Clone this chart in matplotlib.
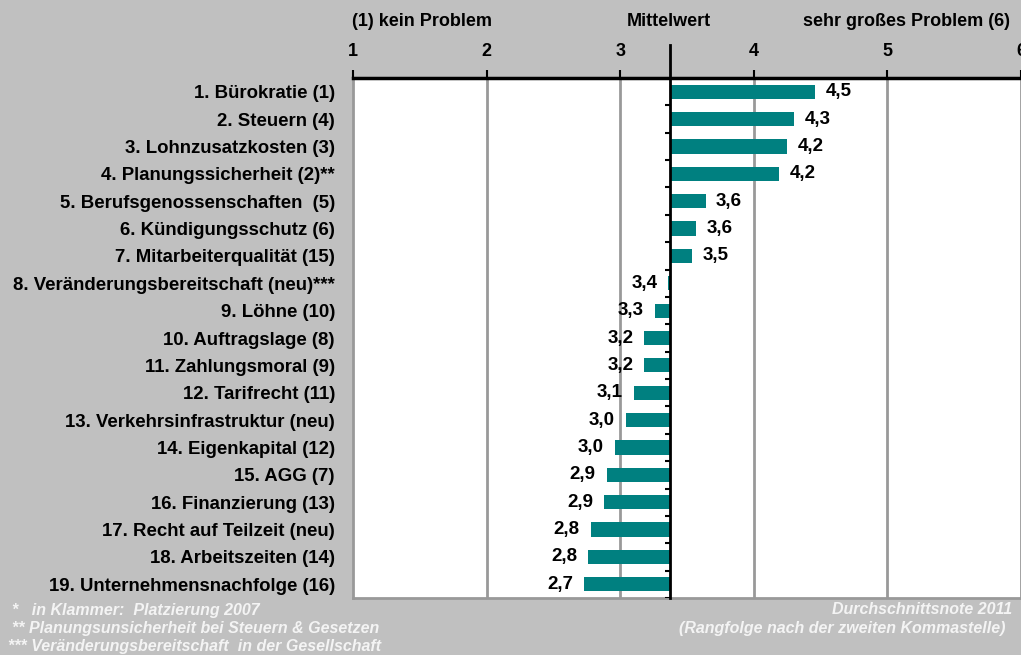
import matplotlib.pyplot as plt
import numpy as np

plt.rcParams['font.family'] = ['Liberation Sans', 'DejaVu Sans']

categories = [
    "1. Bürokratie (1)",
    "2. Steuern (4)",
    "3. Lohnzusatzkosten (3)",
    "4. Planungssicherheit (2)**",
    "5. Berufsgenossenschaften  (5)",
    "6. Kündigungsschutz (6)",
    "7. Mitarbeiterqualität (15)",
    "8. Veränderungsbereitschaft (neu)***",
    "9. Löhne (10)",
    "10. Auftragslage (8)",
    "11. Zahlungsmoral (9)",
    "12. Tarifrecht (11)",
    "13. Verkehrsinfrastruktur (neu)",
    "14. Eigenkapital (12)",
    "15. AGG (7)",
    "16. Finanzierung (13)",
    "17. Recht auf Teilzeit (neu)",
    "18. Arbeitszeiten (14)",
    "19. Unternehmensnachfolge (16)",
]
values = [4.46, 4.30, 4.25, 4.19, 3.64, 3.57, 3.54, 3.36, 3.26, 3.18, 3.18,
          3.10, 3.04, 2.96, 2.90, 2.88, 2.78, 2.76, 2.73]
labels = ["4,5", "4,3", "4,2", "4,2", "3,6", "3,6", "3,5", "3,4", "3,3", "3,2",
          "3,2", "3,1", "3,0", "3,0", "2,9", "2,9", "2,8", "2,8", "2,7"]
mean_value = 3.37
xticks = [1, 2, 3, 4, 5, 6]

bg = "#c0c0c0"
teal = "#008080"

fig = plt.figure(figsize=(10.21, 6.55), dpi=100, facecolor=bg)
ax = fig.add_axes([353 / 1021, 57 / 655, 668 / 1021, 520 / 655])
ax.set_facecolor("white")

y = np.arange(len(categories))
widths = [v - mean_value for v in values]
ax.barh(y, widths, left=mean_value, height=0.52, color=teal, zorder=3)

ax.set_xlim(1, 6)
ax.set_ylim(len(categories) - 0.5, -0.5)

# grid lines
for t in xticks[1:-1]:
    ax.axvline(t, color="#999999", lw=2, zorder=1)

# mean line with category ticks
ax.plot([mean_value, mean_value], [len(categories) - 0.5, -0.5 - 1.2],
        color="black", lw=2, zorder=4, clip_on=False)
ax.hlines(np.arange(len(categories)) + 0.5, mean_value - 0.035, mean_value,
          color="black", lw=1.5, zorder=4)

# value labels
for yi, v, lab in zip(y, values, labels):
    if v >= mean_value:
        ax.annotate(lab, (v, yi), xytext=(7.5, 0), textcoords="offset points",
                    ha="left", va="center", fontsize=13.5, fontweight="bold")
    else:
        ax.annotate(lab, (v, yi), xytext=(-8, 0), textcoords="offset points",
                    ha="right", va="center", fontsize=13.5, fontweight="bold")

# axes styling
ax.xaxis.tick_top()
ax.set_xticks(xticks)
ax.set_xticklabels([str(t) for t in xticks], fontsize=13, fontweight="bold")
ax.tick_params(axis="x", direction="out", length=6, width=1.5, pad=7)
ax.set_yticks(y)
ax.set_yticklabels(categories, fontsize=13.4, fontweight="bold")
ax.tick_params(axis="y", length=0, pad=13)
ax.spines["top"].set_linewidth(2.5)
ax.spines["top"].set_color("black")
for s in ["left", "bottom", "right"]:
    ax.spines[s].set_color("#999999")
    ax.spines[s].set_linewidth(2)

# header texts
fig.text(352 / 1021, 1 - 21 / 655, "(1) kein Problem", ha="left", va="center",
         fontsize=13, fontweight="bold")
fig.text(669 / 1021, 1 - 21 / 655, "Mittelwert", ha="center", va="center",
         fontsize=13, fontweight="bold")
fig.text(803 / 1021, 1 - 21 / 655, "sehr großes Problem (6)", ha="left",
         va="center", fontsize=13, fontweight="bold")

# footnotes
foot = dict(color="#f4f4f4", fontsize=11.5, fontstyle="italic", fontweight="bold")
fig.text(12 / 1021, 1 - 610 / 655, "*   in Klammer:  Platzierung 2007", va="center", **foot)
fig.text(12 / 1021, 1 - 629 / 655, "** Planungsunsicherheit bei Steuern & Gesetzen", va="center", **foot)
fig.text(8 / 1021, 1 - 647 / 655, "*** Veränderungsbereitschaft  in der Gesellschaft", va="center", **foot)
fig.text(1012 / 1021, 1 - 610 / 655, "Durchschnittsnote 2011", ha="right", va="center", **foot)
fig.text(1005 / 1021, 1 - 629 / 655, "(Rangfolge nach der zweiten Kommastelle)", ha="right", va="center", **foot)

fig.savefig("out.png", dpi=100, facecolor=bg)
